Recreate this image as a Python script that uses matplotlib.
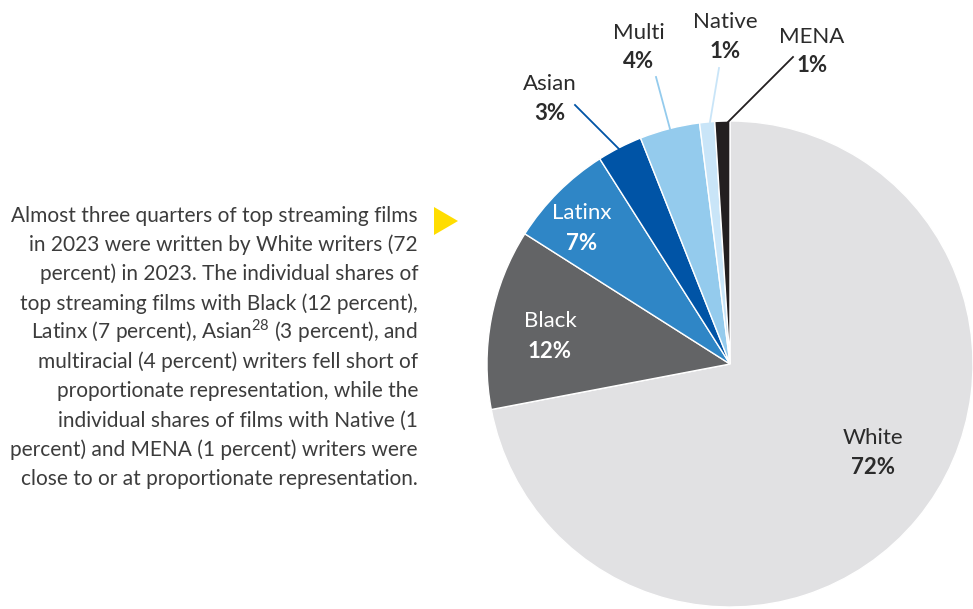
import matplotlib
matplotlib.use('Agg')
import matplotlib.pyplot as plt
from matplotlib.patches import Polygon

plt.rcParams['font.family'] = ['Lato', 'DejaVu Sans']
plt.rcParams['mathtext.fontset'] = 'custom'
plt.rcParams['mathtext.rm'] = 'Lato'

# data
groups = ['White', 'Black', 'Latinx', 'Asian', 'Multi', 'Native', 'MENA']
shares = [72, 12, 7, 3, 4, 1, 1]
colors = ['#e1e1e3', '#636466', '#2f86c6', '#0054a6', '#94cbed', '#c9e5f8', '#231f20']

body_lines = [
    "Almost three quarters of top streaming films",
    "in 2023 were written by White writers (72",
    "percent) in 2023. The individual shares of",
    "top streaming films with Black (12 percent),",
    "Latinx (7 percent), Asian$^{\\mathrm{28}}$ (3 percent), and",
    "multiracial (4 percent) writers fell short of",
    "proportionate representation, while the",
    "individual shares of films with Native (1",
    "percent) and MENA (1 percent) writers were",
    "close to or at proportionate representation.",
]

W, H = 973, 609
fig = plt.figure(figsize=(W / 100, H / 100), dpi=100)
ax = fig.add_axes([0, 0, 1, 1])

cx, cy, r = 730, H - 364, 243
wedges, _ = ax.pie(shares, colors=colors, startangle=90, counterclock=False,
                   center=(cx, cy), radius=r,
                   wedgeprops=dict(edgecolor='white', linewidth=1.0))
ax.set_xlim(0, W)
ax.set_ylim(0, H)
ax.set_aspect('equal')
ax.axis('off')

txt_dark = '#2b2b2b'
fs = 16

# labels inside
inside = {'White': (873, 438, txt_dark), 'Black': (550, 321, 'white'),
          'Latinx': (582, 213, 'white')}
for g, v in zip(groups, shares):
    if g in inside:
        x, y, c = inside[g]
        ax.text(x, H - y, g, ha='center', va='center', fontsize=fs, color=c)
        ax.text(x, H - y - 30, f'{v}%', ha='center', va='center', fontsize=fs,
                color=c, fontweight='bold')

# labels outside with leader lines
outside = {'Asian': ((550, 84), (575, 105), (619, 149)),
           'Multi': ((639, 33), (656, 77), (670, 129)),
           'Native': ((725, 22), (719, 68), (710, 122)),
           'MENA': ((812, 37), (793, 57), (728, 122))}
for g, v, c in zip(groups, shares, colors):
    if g in outside:
        (x, y), p0, p1 = outside[g]
        ax.text(x, H - y, g, ha='center', va='center', fontsize=fs, color=txt_dark)
        ax.text(x, H - y - 29, f'{v}%', ha='center', va='center', fontsize=fs,
                color=txt_dark, fontweight='bold')
        ax.plot([p0[0], p1[0]], [H - p0[1], H - p1[1]], color=c, lw=1.3)

for i, line in enumerate(body_lines):
    ax.text(418, H - (222 + 29.2 * i), line, ha='right', va='baseline',
            fontsize=15, color='#3c3c3c')

ax.add_patch(Polygon([[434, H - 207], [434, H - 235], [458, H - 221]],
                     closed=True, color='#ffdd00', lw=0))

fig.savefig('out.png', dpi=100)
